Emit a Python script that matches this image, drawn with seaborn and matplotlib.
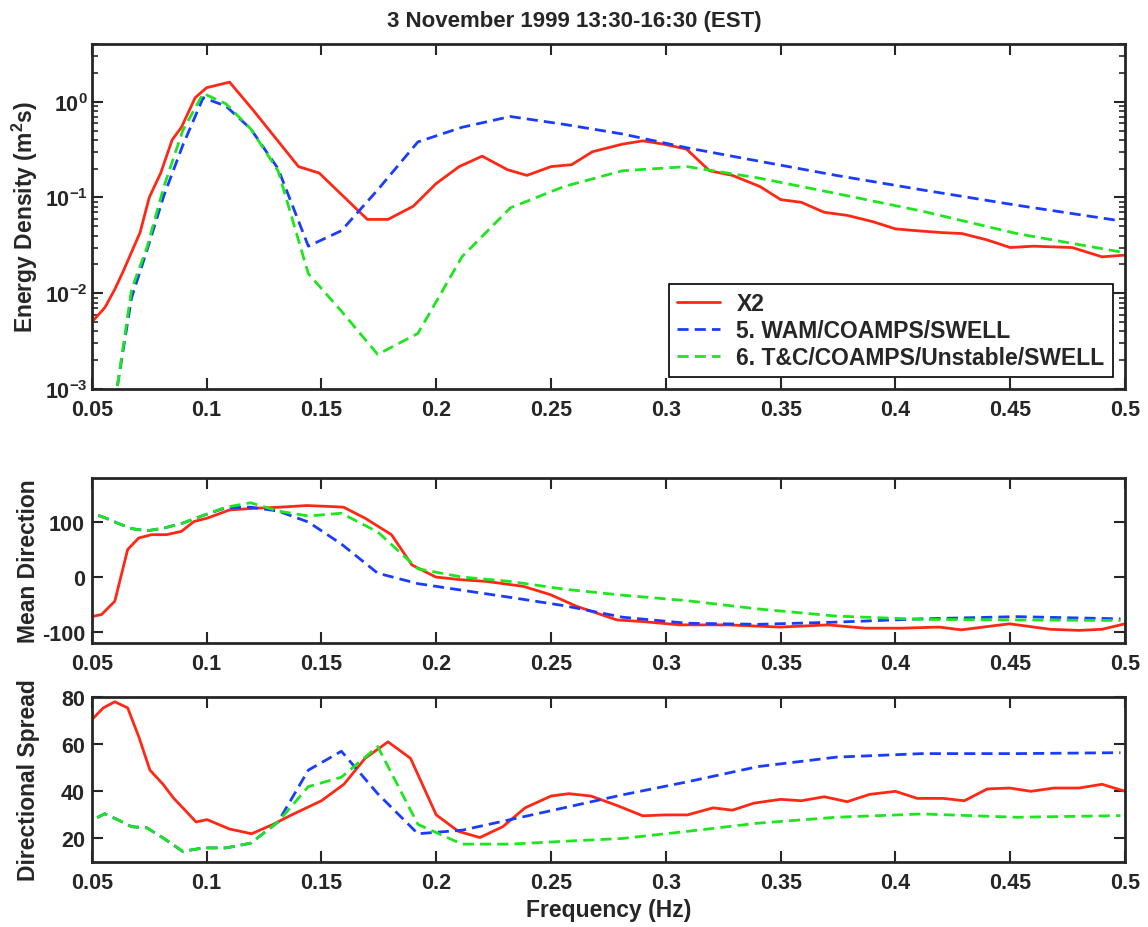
import numpy as np
import pandas as pd
import seaborn as sns
import matplotlib
matplotlib.use("Agg")
import matplotlib.pyplot as plt
from matplotlib.ticker import FixedLocator, FixedFormatter, LogLocator, NullFormatter

# model frequencies (WAM style, 10% spacing)
f_model = [0.0460, 0.0506, 0.0556, 0.0612, 0.0673, 0.0740, 0.0814, 0.0896, 0.0985,
           0.1084, 0.1192, 0.1311, 0.1443, 0.1587, 0.1745, 0.1920, 0.2112, 0.2323,
           0.2556, 0.2811, 0.3092, 0.3402, 0.3742, 0.4116, 0.4528, 0.4980]

# energy density
f_x2_e = [0.050, 0.0557, 0.060, 0.0635, 0.071, 0.075, 0.080, 0.085, 0.089, 0.095,
          0.100, 0.110, 0.120, 0.133, 0.140, 0.149, 0.170, 0.179, 0.190, 0.200,
          0.210, 0.220, 0.231, 0.2395, 0.250, 0.259, 0.268, 0.281, 0.290, 0.299,
          0.309, 0.319, 0.329, 0.341, 0.350, 0.359, 0.369, 0.379, 0.390, 0.400,
          0.409, 0.420, 0.429, 0.440, 0.450, 0.460, 0.477, 0.490, 0.500]
e_x2 = [0.0050, 0.0071, 0.011, 0.0166, 0.043, 0.10, 0.18, 0.40, 0.54, 1.1,
        1.4, 1.6, 0.83, 0.34, 0.21, 0.18, 0.059, 0.059, 0.081, 0.14,
        0.21, 0.27, 0.195, 0.17, 0.21, 0.22, 0.30, 0.36, 0.39, 0.36,
        0.32, 0.19, 0.17, 0.13, 0.095, 0.089, 0.070, 0.065, 0.056, 0.047,
        0.045, 0.043, 0.042, 0.036, 0.030, 0.031, 0.030, 0.024, 0.025]
e_wam = [1e-5, 1e-5, 1e-4, 0.0011, 0.009, 0.028, 0.105, 0.35, 1.1,
         0.9, 0.52, 0.2, 0.031, 0.045, 0.12, 0.38, 0.54, 0.70,
         0.58, 0.46, 0.33, 0.24, 0.17, 0.12, 0.083, 0.057]
e_tc = [1e-5, 1e-5, 1e-4, 0.0011, 0.011, 0.030, 0.13, 0.5, 1.22,
        0.95, 0.52, 0.19, 0.016, 0.0065, 0.0023, 0.0038, 0.024, 0.078,
        0.13, 0.19, 0.21, 0.16, 0.11, 0.072, 0.042, 0.027]

# mean direction
f_x2_d = [0.050, 0.0543, 0.060, 0.0656, 0.0704, 0.076, 0.0825, 0.089, 0.0945, 0.1002,
          0.110, 0.121, 0.132, 0.1436, 0.155, 0.1596, 0.169, 0.1805, 0.1894, 0.1998,
          0.211, 0.222, 0.238, 0.2497, 0.261, 0.2787, 0.290, 0.306, 0.327, 0.3497,
          0.3706, 0.3868, 0.403, 0.419, 0.4287, 0.4497, 0.4674, 0.480, 0.490, 0.500]
d_x2 = [-72, -68, -44, 50, 71, 77, 77, 83, 101, 107,
        122, 125, 127, 130, 128, 127, 107, 77, 22, 0,
        -5, -8, -17, -32, -53, -78, -81, -87, -87, -91,
        -87, -93, -93, -91, -96, -85, -95, -97, -95, -85]
d_wam = [125, 115, 108, 98, 88, 84, 89, 98, 112,
         126, 127, 120, 100, 60, 7, -12, -24, -37,
         -52, -73, -84, -86, -82, -76, -72, -76]
d_tc = [125, 115, 108, 98, 88, 84, 89, 98, 112,
        127, 135, 120, 111, 116, 82, 15, 0, -8,
        -22, -33, -43, -58, -71, -77, -78, -79]

# directional spread
f_x2_s = [0.050, 0.055, 0.060, 0.0656, 0.0705, 0.0753, 0.081, 0.0857, 0.0906, 0.0954,
          0.1002, 0.110, 0.1196, 0.129, 0.137, 0.150, 0.1598, 0.169, 0.179, 0.1888,
          0.200, 0.2097, 0.219, 0.229, 0.2387, 0.250, 0.2577, 0.2674, 0.2787, 0.290,
          0.2997, 0.3094, 0.3206, 0.329, 0.3384, 0.350, 0.359, 0.369, 0.379, 0.3887,
          0.400, 0.4095, 0.4208, 0.430, 0.440, 0.4497, 0.459, 0.469, 0.480, 0.490, 0.500]
s_x2 = [70.4, 75.4, 78, 75.4, 63, 49, 43, 37, 32, 27,
        28, 24, 22, 26, 30, 36, 43, 54, 61, 54,
        30, 23, 20.4, 25, 33, 38, 39, 38, 34, 29.6,
        30, 30, 33, 32, 35, 36.6, 36, 37.7, 35.6, 38.7,
        40, 37, 37, 36, 41, 41.4, 40, 41.4, 41.4, 43, 40]
s_wam = [25, 28, 30.5, 28, 25, 24.5, 20, 14.5, 16,
         16, 18, 27, 49, 57, 39, 22, 23.5, 28,
         33, 38.5, 44, 50.5, 54.5, 56, 56, 56.4]
s_tc = [25, 28, 30.5, 28, 25, 24.5, 20, 14.5, 16,
        16, 18, 27, 42, 46, 59, 26, 17.6, 17.6,
        18.8, 20, 23, 26.5, 29, 30.4, 29, 29.7]

labels = ["X2", "5. WAM/COAMPS/SWELL", "6. T&C/COAMPS/Unstable/SWELL"]
colors = ["#ff2814", "#1a3cff", "#1ee61e"]

sns.set_style("ticks")
plt.rcParams["font.family"] = ["Liberation Sans", "DejaVu Sans"]
plt.rcParams["font.weight"] = "bold"
plt.rcParams["axes.unicode_minus"] = False
plt.rcParams["mathtext.fontset"] = "custom"
plt.rcParams["mathtext.rm"] = "Liberation Sans:bold"
plt.rcParams["mathtext.bf"] = "Liberation Sans:bold"
plt.rcParams["mathtext.it"] = "Liberation Sans:bold"

fig = plt.figure(figsize=(11.48, 9.28), dpi=100)
ax1 = fig.add_axes([0.080, 0.5797, 0.900, 0.3718])
ax2 = fig.add_axes([0.080, 0.306, 0.900, 0.1778])
ax3 = fig.add_axes([0.080, 0.070, 0.900, 0.1778])

dash = (0, (4, 2.2))
panels = [
    (ax1, f_x2_e, e_x2, e_wam, e_tc),
    (ax2, f_x2_d, d_x2, d_wam, d_tc),
    (ax3, f_x2_s, s_x2, s_wam, s_tc),
]
for ax, fx, yx, yw, yt in panels:
    sns.lineplot(x=fx, y=yx, ax=ax, color=colors[0], lw=2.0, label=labels[0],
                 estimator=None, sort=False)
    sns.lineplot(x=f_model, y=yw, ax=ax, color=colors[1], lw=2.0, ls=dash,
                 label=labels[1], estimator=None, sort=False)
    sns.lineplot(x=f_model, y=yt, ax=ax, color=colors[2], lw=2.0, ls=dash,
                 label=labels[2], estimator=None, sort=False)

xt = [0.05, 0.1, 0.15, 0.2, 0.25, 0.3, 0.35, 0.4, 0.45, 0.5]
xtl = ["0.05", "0.1", "0.15", "0.2", "0.25", "0.3", "0.35", "0.4", "0.45", "0.5"]
for ax in (ax1, ax2, ax3):
    ax.set_xlim(0.05, 0.5)
    ax.set_xticks(xt)
    ax.set_xticklabels(xtl)
    ax.tick_params(direction="in", top=True, right=True, length=8, width=1.5,
                   labelsize=15.5, pad=5)
    ax.tick_params(axis="x", pad=7)
    ax.tick_params(which="minor", direction="in", right=True, left=True, length=4, width=1.2)
    for sp in ax.spines.values():
        sp.set_linewidth(2)
    ax.set_xlabel("")

ax1.set_yscale("log")
ax1.set_ylim(1e-3, 4)
ax1.yaxis.set_major_locator(FixedLocator([1e-3, 1e-2, 1e-1, 1e0]))
ax1.yaxis.set_major_formatter(FixedFormatter([r"$10^{-3}$", r"$10^{-2}$", r"$10^{-1}$", r"$10^{0}$"]))
ax1.yaxis.set_minor_locator(LogLocator(base=10, subs=np.arange(2, 10)))
ax1.yaxis.set_minor_formatter(NullFormatter())
ax1.tick_params(axis="y", pad=3)
ax1.set_ylabel(r"Energy Density (m$^2$s)", fontsize=16.5, fontweight="bold")
leg = ax1.legend(loc="lower right", bbox_to_anchor=(0.988, 0.035), borderaxespad=0,
                 fontsize=16.5, frameon=True, fancybox=False, edgecolor="black",
                 framealpha=1, handlelength=1.9, handletextpad=0.7, borderpad=0.35,
                 labelspacing=0.18)
leg.get_frame().set_linewidth(1.2)

ax2.set_ylim(-120, 180)
ax2.set_yticks([-100, 0, 100])
ax2.set_ylabel("Mean Direction", fontsize=16.5, fontweight="bold")
ax2.legend().remove()

ax3.set_ylim(10, 80)
ax3.set_yticks([20, 40, 60, 80])
ax3.set_ylabel("Directional Spread", fontsize=16.5, fontweight="bold")
ax3.set_xlabel("Frequency (Hz)", fontsize=16.5, fontweight="bold")
ax3.legend().remove()

for ax in (ax1, ax2, ax3):
    ax.yaxis.set_label_coords(-0.050, 0.5)

fig.suptitle("3 November 1999 13:30-16:30 (EST)", y=0.988, fontsize=16, fontweight="bold")

fig.savefig("out.png", dpi=100)
